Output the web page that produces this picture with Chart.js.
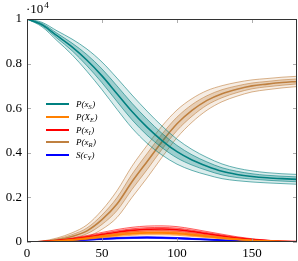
<!DOCTYPE html>
<html>
<head>
<meta charset="utf-8">
<script src="https://cdn.jsdelivr.net/npm/chart.js@4"></script>
<style>
  html, body { margin: 0; padding: 0; background: #fff; }
  #wrap { width: 298px; height: 261px; position: relative; }
</style>
</head>
<body>
<div id="wrap"><canvas id="chart" width="298" height="261"></canvas></div>
<script>
// time axis
var xs = [0, 10, 20, 30, 40, 50, 60, 70, 80, 90, 100, 110, 120, 130, 140, 150, 160, 170, 180];
var xTicks = [0, 50, 100, 150];
var yTicks = [0, 2000, 4000, 6000, 8000, 10000];

// P(x_S) - teal
var sMean  = [10000, 9750, 9250, 8750, 8150, 7450, 6650, 5850, 5150, 4550, 4050, 3680, 3400, 3170, 3030, 2940, 2880, 2840, 2810];
var sOuter = [0, 100, 220, 350, 500, 620, 700, 740, 720, 650, 560, 470, 390, 330, 280, 250, 230, 220, 220];
var sInner = [0, 50, 110, 170, 250, 310, 350, 370, 360, 320, 280, 230, 190, 160, 140, 120, 110, 110, 110];

// P(x_R) - brown
var rMean  = [0, 20, 100, 250, 500, 1000, 1700, 2700, 3600, 4500, 5300, 5900, 6350, 6650, 6850, 7000, 7080, 7150, 7200];
var rOuter = [0, 20, 80, 160, 270, 430, 600, 700, 730, 700, 620, 530, 440, 360, 310, 270, 250, 240, 230];
var rInner = [0, 10, 40, 80, 130, 210, 290, 340, 360, 340, 300, 260, 210, 180, 150, 130, 120, 120, 110];

// P(x_I) - red
var iMean  = [0, 20, 60, 130, 220, 330, 440, 520, 570, 580, 550, 470, 370, 270, 180, 110, 60, 30, 20];
var iOuter = [0, 5, 20, 40, 70, 100, 120, 140, 145, 145, 140, 120, 100, 80, 55, 35, 20, 10, 5];
var iInner = [0, 2, 10, 20, 35, 50, 60, 70, 72, 72, 70, 60, 50, 40, 27, 17, 10, 5, 2];

// P(X_E) - orange
var eMean  = [0, 10, 40, 90, 160, 240, 320, 380, 410, 410, 380, 320, 250, 180, 120, 70, 40, 20, 10];
var eOuter = [0, 3, 10, 25, 40, 55, 70, 80, 85, 85, 80, 70, 55, 40, 28, 18, 10, 5, 3];
var eInner = [0, 1, 5, 12, 20, 27, 35, 40, 42, 42, 40, 35, 27, 20, 14, 9, 5, 2, 1];

// S(c_Y) - blue
var cMean  = [0, 10, 30, 60, 100, 140, 170, 190, 200, 190, 170, 140, 110, 80, 50, 30, 20, 10, 10];
var cOuter = [0, 3, 8, 15, 22, 28, 32, 35, 35, 35, 32, 28, 22, 16, 11, 7, 4, 2, 2];
var cInner = [0, 1, 4, 7, 11, 14, 16, 17, 17, 17, 16, 14, 11, 8, 5, 3, 2, 1, 1];

var series = [
  { name: ['P(', 'x', 'S', ')'], rgb: '0,128,128',  mean: sMean, outer: sOuter, inner: sInner },
  { name: ['P(', 'X', 'E', ')'], rgb: '255,128,0',  mean: eMean, outer: eOuter, inner: eInner },
  { name: ['P(', 'x', 'I', ')'], rgb: '255,0,0',    mean: iMean, outer: iOuter, inner: iInner },
  { name: ['P(', 'x', 'R', ')'], rgb: '191,128,64', mean: rMean, outer: rOuter, inner: rInner },
  { name: ['S(', 'c', 'Y', ')'], rgb: '0,0,255',    mean: cMean, outer: cOuter, inner: cInner }
];

function pts(mean, spread, sign) {
  return xs.map(function (x, i) { return { x: x, y: mean[i] + sign * (spread ? spread[i] : 0) }; });
}

var datasets = [];
series.forEach(function (s) {
  var col = 'rgb(' + s.rgb + ')';
  var base = { pointRadius: 0, cubicInterpolationMode: 'monotone', borderColor: col };
  datasets.push(Object.assign({}, base, { data: pts(s.mean, s.outer, 1), borderWidth: 0.6, fill: '+4', backgroundColor: 'rgba(' + s.rgb + ',0.14)' }));
  datasets.push(Object.assign({}, base, { data: pts(s.mean, s.inner, 1), borderWidth: 0.6, fill: '+2', backgroundColor: 'rgba(' + s.rgb + ',0.28)' }));
  datasets.push(Object.assign({}, base, { data: pts(s.mean, null, 0), borderWidth: 1.6, fill: false }));
  datasets.push(Object.assign({}, base, { data: pts(s.mean, s.inner, -1), borderWidth: 0.6, fill: false }));
  datasets.push(Object.assign({}, base, { data: pts(s.mean, s.outer, -1), borderWidth: 0.6, fill: false }));
});

var serif = '"Liberation Serif", "DejaVu Serif", serif';

// frame, inner ticks, exponent label and legend
var decor = {
  id: 'decor',
  afterDraw: function (chart) {
    var ctx = chart.ctx, a = chart.chartArea;
    var xs_ = chart.scales.x, ys_ = chart.scales.y;
    ctx.save();
    ctx.strokeStyle = '#999';
    ctx.lineWidth = 0.8;
    xTicks.forEach(function (v) {
      var px = Math.round(xs_.getPixelForValue(v)) + 0.5;
      ctx.beginPath();
      ctx.moveTo(px, a.bottom); ctx.lineTo(px, a.bottom - 4);
      ctx.moveTo(px, a.top); ctx.lineTo(px, a.top + 4);
      ctx.stroke();
    });
    yTicks.forEach(function (v) {
      var py = Math.round(ys_.getPixelForValue(v)) + 0.5;
      ctx.beginPath();
      ctx.moveTo(a.left, py); ctx.lineTo(a.left + 4, py);
      ctx.moveTo(a.right, py); ctx.lineTo(a.right - 4, py);
      ctx.stroke();
    });
    ctx.strokeStyle = '#333';
    ctx.lineWidth = 1;
    ctx.strokeRect(a.left + 0.5, a.top + 0.5, a.right - a.left - 1, a.bottom - a.top - 1);

    // exponent
    ctx.fillStyle = '#000';
    ctx.textBaseline = 'alphabetic';
    ctx.font = '13px ' + serif;
    ctx.fillText('\u00b710', 26, 13);
    var w = ctx.measureText('\u00b710').width;
    ctx.font = '9px ' + serif;
    ctx.fillText('4', 26 + w + 1, 8);

    // legend
    var rowY = [104, 117, 130, 142, 155];
    series.forEach(function (s, i) {
      var y = rowY[i];
      ctx.strokeStyle = 'rgb(' + s.rgb + ')';
      ctx.lineWidth = 2;
      ctx.beginPath();
      ctx.moveTo(46, y); ctx.lineTo(69, y);
      ctx.stroke();
      var x = 76;
      ctx.fillStyle = '#000';
      ctx.font = 'italic 9px ' + serif;
      ctx.fillText(s.name[0], x, y + 3);
      x += ctx.measureText(s.name[0]).width;
      ctx.fillText(s.name[1], x, y + 3);
      x += ctx.measureText(s.name[1]).width;
      ctx.font = 'italic 6.5px ' + serif;
      ctx.fillText(s.name[2], x, y + 5);
      x += ctx.measureText(s.name[2]).width + 0.5;
      ctx.font = 'italic 9px ' + serif;
      ctx.fillText(s.name[3], x, y + 3);
    });
    ctx.restore();
  }
};

new Chart(document.getElementById('chart').getContext('2d'), {
  type: 'line',
  data: { datasets: datasets },
  options: {
    responsive: false,
    animation: false,
    events: [],
    layout: { padding: { top: 19, right: 1, left: 0, bottom: 0 } },
    plugins: { legend: { display: false }, tooltip: { enabled: false } },
    scales: {
      x: {
        type: 'linear', min: 0, max: 180,
        afterFit: function (s) { s.height = 19; },
        afterBuildTicks: function (s) { s.ticks = xTicks.map(function (v) { return { value: v }; }); },
        grid: { display: false, drawTicks: false },
        border: { display: false },
        ticks: { padding: 4, color: '#000', font: { family: serif, size: 13 }, maxRotation: 0 }
      },
      y: {
        type: 'linear', min: 0, max: 10000,
        afterFit: function (s) { s.width = 27; },
        afterBuildTicks: function (s) { s.ticks = yTicks.map(function (v) { return { value: v }; }); },
        grid: { display: false, drawTicks: false },
        border: { display: false },
        ticks: { padding: 5, color: '#000', font: { family: serif, size: 13 },
          callback: function (v) { return String(v / 10000); } }
      }
    }
  },
  plugins: [decor]
});
</script>
</body>
</html>
